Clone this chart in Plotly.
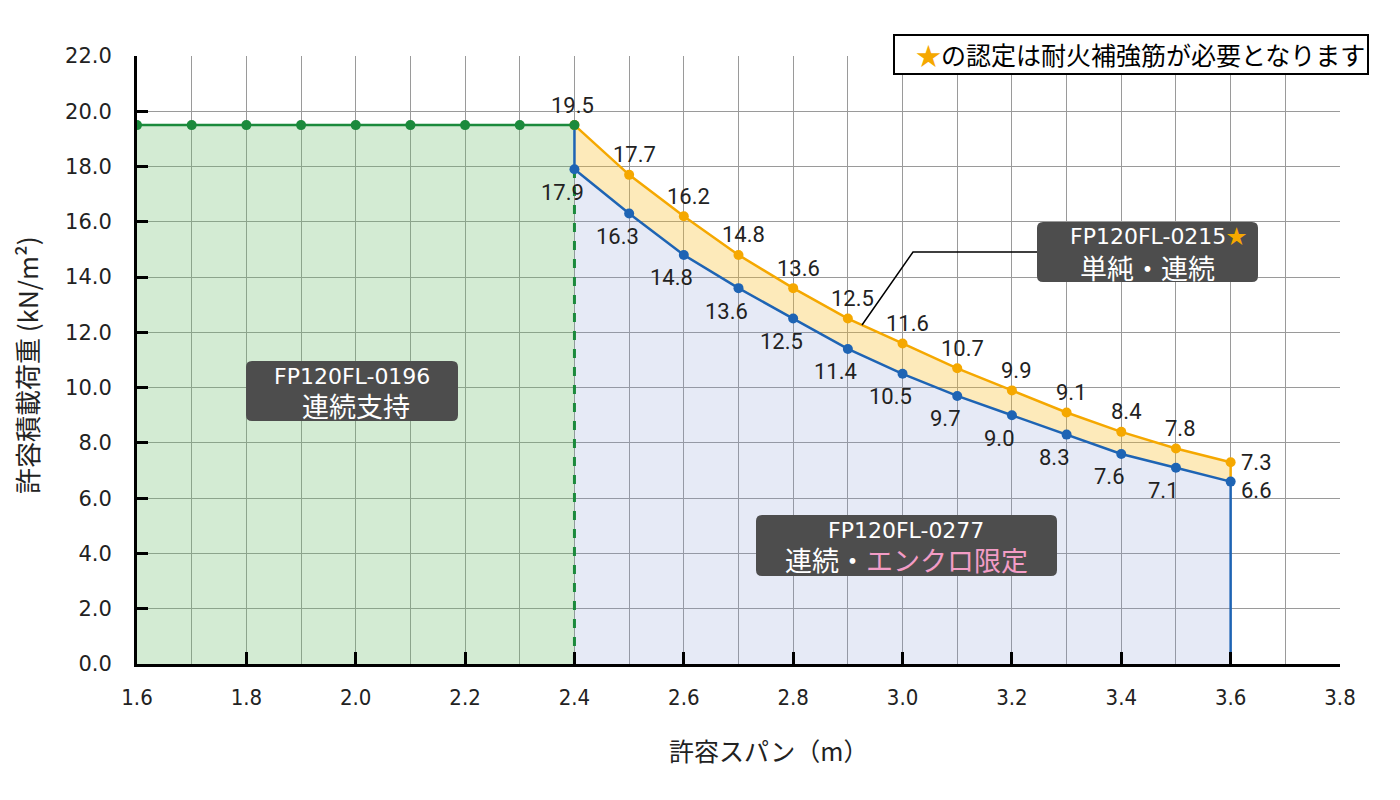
import plotly.graph_objects as go

# ---------------- data ----------------
span_0196 = [1.6, 1.7, 1.8, 1.9, 2.0, 2.1, 2.2, 2.3, 2.4]
load_0196 = [19.5, 19.5, 19.5, 19.5, 19.5, 19.5, 19.5, 19.5, 19.5]

span_main = [2.4, 2.5, 2.6, 2.7, 2.8, 2.9, 3.0, 3.1, 3.2, 3.3, 3.4, 3.5, 3.6]
load_0215 = [19.5, 17.7, 16.2, 14.8, 13.6, 12.5, 11.6, 10.7, 9.9, 9.1, 8.4, 7.8, 7.3]
load_0277 = [17.9, 16.3, 14.8, 13.6, 12.5, 11.4, 10.5, 9.7, 9.0, 8.3, 7.6, 7.1, 6.6]

x_ticks = [1.6, 1.8, 2.0, 2.2, 2.4, 2.6, 2.8, 3.0, 3.2, 3.4, 3.6, 3.8]
y_ticks = [0, 2, 4, 6, 8, 10, 12, 14, 16, 18, 20, 22]

# ---------------- style ----------------
GREEN = "#1b8a3c"
BLUE = "#1e64b4"
ORANGE = "#f5a800"
BOXC = "#4d4d4d"
PINK = "#f39cc6"
JP = "Noto Sans CJK JP"
LAT = "DejaVu Sans, Noto Sans CJK JP"

W, H = 1400, 800
L, R, T, B = 137, 60, 56, 136
XR = (1.6, 3.8)
YR = (0, 22)
PW, PH = W - L - R, H - T - B


def px2x(px):
    return XR[0] + (px - L) / PW * (XR[1] - XR[0])


def py2y(py):
    return YR[0] + (H - B - py) / PH * (YR[1] - YR[0])


def rounded_box(x0, y0, x1, y1, r=6):
    """rounded rect given in pixel coords -> path in data coords"""
    rx = r / PW * (XR[1] - XR[0])
    ry = r / PH * (YR[1] - YR[0])
    X0, X1 = px2x(x0), px2x(x1)
    Yt, Yb = py2y(y0), py2y(y1)
    p = (f"M {X0+rx},{Yt} L {X1-rx},{Yt} Q {X1},{Yt} {X1},{Yt-ry} "
         f"L {X1},{Yb+ry} Q {X1},{Yb} {X1-rx},{Yb} "
         f"L {X0+rx},{Yb} Q {X0},{Yb} {X0},{Yb+ry} "
         f"L {X0},{Yt-ry} Q {X0},{Yt} {X0+rx},{Yt} Z")
    return dict(type="path", path=p, xref="x", yref="y", fillcolor=BOXC,
                line=dict(width=0), layer="above")


fig = go.Figure()

# fills
fig.add_trace(go.Scatter(x=span_0196, y=load_0196, mode="lines", fill="tozeroy",
                         fillcolor="rgba(110,190,110,0.30)", line=dict(width=0),
                         hoverinfo="skip", showlegend=False))
fig.add_trace(go.Scatter(x=span_main, y=load_0277, mode="lines", fill="tozeroy",
                         fillcolor="rgba(130,150,210,0.20)", line=dict(width=0),
                         hoverinfo="skip", showlegend=False))
fig.add_trace(go.Scatter(x=span_main, y=load_0215, mode="lines", fill="tonexty",
                         fillcolor="rgba(250,190,40,0.32)", line=dict(width=0),
                         hoverinfo="skip", showlegend=False))

# vertical boundary lines
fig.add_trace(go.Scatter(x=[span_main[0], span_main[0]], y=[0, load_0277[0]], mode="lines",
                         line=dict(color=GREEN, width=3, dash="dash"), showlegend=False))
fig.add_trace(go.Scatter(x=[span_main[0], span_main[0]], y=[load_0277[0], load_0215[0]], mode="lines",
                         line=dict(color=BLUE, width=2.5), showlegend=False))
fig.add_trace(go.Scatter(x=[span_main[-1], span_main[-1]], y=[0, load_0277[-1]], mode="lines",
                         line=dict(color=BLUE, width=2.5), showlegend=False))
fig.add_trace(go.Scatter(x=[span_main[-1], span_main[-1]], y=[load_0277[-1], load_0215[-1]], mode="lines",
                         line=dict(color=ORANGE, width=2.5), showlegend=False))

# series lines
fig.add_trace(go.Scatter(x=span_main, y=load_0215, mode="lines+markers",
                         line=dict(color=ORANGE, width=2.5), marker=dict(color=ORANGE, size=10),
                         showlegend=False))
fig.add_trace(go.Scatter(x=span_main, y=load_0277, mode="lines+markers",
                         line=dict(color=BLUE, width=2.5), marker=dict(color=BLUE, size=10),
                         showlegend=False))
fig.add_trace(go.Scatter(x=span_0196, y=load_0196, mode="lines+markers",
                         line=dict(color=GREEN, width=2.5), marker=dict(color=GREEN, size=10),
                         showlegend=False))

annotations = []
label_font = dict(family="Roboto, Liberation Sans, sans-serif", size=22, color="#222222")
n = len(span_main)
for i, (xv, yv) in enumerate(zip(span_main, load_0215)):
    xs, ys = (5, 20)
    if i == 0:
        xs, ys = (-2, 20)
    if i == n - 1:
        xs, ys = (26, 0)
    annotations.append(dict(x=xv, y=yv, text=f"{yv:.1f}", showarrow=False, xshift=xs, yshift=ys,
                            font=label_font, xanchor="center", yanchor="middle"))
for i, (xv, yv) in enumerate(zip(span_main, load_0277)):
    xs, ys = (-12, -23)
    if i == n - 1:
        xs, ys = (26, -9)
    annotations.append(dict(x=xv, y=yv, text=f"{yv:.1f}", showarrow=False, xshift=xs, yshift=ys,
                            font=label_font, xanchor="center", yanchor="middle"))

font_l1 = dict(family=LAT, size=22, color="white")
font_l2 = dict(family=JP, size=27, color="white")
shapes = []


def box_text(cx, cy1, cy2, line1, line2):
    annotations.append(dict(x=px2x(cx[0]), y=py2y(cy1), text=line1, showarrow=False,
                            font=font_l1, xanchor="center", yanchor="middle"))
    annotations.append(dict(x=px2x(cx[1]), y=py2y(cy2), text=line2, showarrow=False,
                            font=font_l2, xanchor="center", yanchor="middle"))


STAR = f"<span style='font-family:Noto Sans CJK JP;font-size:20px;color:{ORANGE}'>★</span>"

# box 1
shapes.append(rounded_box(246, 361, 458, 421))
box_text((352, 356), 376, 405, "FP120FL-0196", "連続支持")
# box 2
shapes.append(rounded_box(756, 515, 1057, 576))
box_text((906, 906), 530, 559, "FP120FL-0277",
         f"連続・<span style='color:{PINK}'>エンクロ限定</span>")
# box 3 + leader line
shapes.append(dict(type="path", xref="x", yref="y", layer="above",
                   path=f"M {px2x(862)},{py2y(325)} L {px2x(913)},{py2y(252)} L {px2x(1037)},{py2y(252)}",
                   line=dict(color="black", width=1.5)))
shapes.append(rounded_box(1037, 222, 1258, 282))
box_text((1158, 1147), 235, 267, f"FP120FL-0215{STAR}", "単純・連続")

# top-right note box
shapes.append(dict(type="rect", xref="paper", yref="paper",
                   x0=(894 - L) / PW, x1=(1368 - L) / PW,
                   y0=(H - B - 74) / PH, y1=(H - B - 35) / PH,
                   fillcolor="white", line=dict(color="black", width=2), layer="above"))
annotations.append(dict(xref="paper", yref="paper", x=(1140 - L) / PW, y=(H - B - 54.5) / PH,
                        text=f"<span style='color:{ORANGE}'>★</span>の認定は耐火補強筋が必要となります",
                        showarrow=False, font=dict(family=JP, size=25, color="black"),
                        xanchor="center", yanchor="middle"))

# axis titles
annotations.append(dict(xref="paper", yref="paper", x=(26 - L) / PW, y=(H - B - 365) / PH,
                        text="許容積載荷重 (kN/m²)", textangle=-90, showarrow=False,
                        font=dict(family=JP, size=26, color="#222222"),
                        xanchor="center", yanchor="middle"))
annotations.append(dict(xref="paper", yref="paper", x=(768 - L) / PW, y=(H - B - 750) / PH,
                        text="許容スパン（m）", showarrow=False,
                        font=dict(family=JP, size=25, color="#222222"),
                        xanchor="center", yanchor="middle"))

fig.update_layout(
    width=W, height=H,
    margin=dict(l=L, r=R, t=T, b=B, pad=0),
    paper_bgcolor="white", plot_bgcolor="white",
    showlegend=False,
    shapes=shapes, annotations=annotations,
    xaxis=dict(range=list(XR), tickvals=x_ticks, ticktext=[f"{v:.1f}" for v in x_ticks],
               ticks="inside", ticklen=12, tickwidth=3, tickcolor="black",
               showline=True, linewidth=3, linecolor="black",
               showgrid=True, gridcolor="#9a9a9a", gridwidth=1,
               minor=dict(dtick=0.1, tick0=1.6, showgrid=True, gridcolor="#9a9a9a", gridwidth=1, ticks=""),
               tickfont=dict(family="Liberation Sans Narrow, DejaVu Sans Condensed, Liberation Sans, sans-serif",
                             size=22, color="#222222"),
               ticklabelstandoff=12, zeroline=False),
    yaxis=dict(range=list(YR), tickvals=y_ticks, ticktext=[f"{v:.1f}" for v in y_ticks],
               ticks="inside", ticklen=11, tickwidth=2.5, tickcolor="black",
               showline=True, linewidth=3, linecolor="black",
               showgrid=True, gridcolor="#9a9a9a", gridwidth=1,
               tickfont=dict(family="DejaVu Sans, Liberation Sans, sans-serif", size=21, color="#222222"),
               ticklabelstandoff=18, zeroline=False),
)

fig.write_html("out.html")
